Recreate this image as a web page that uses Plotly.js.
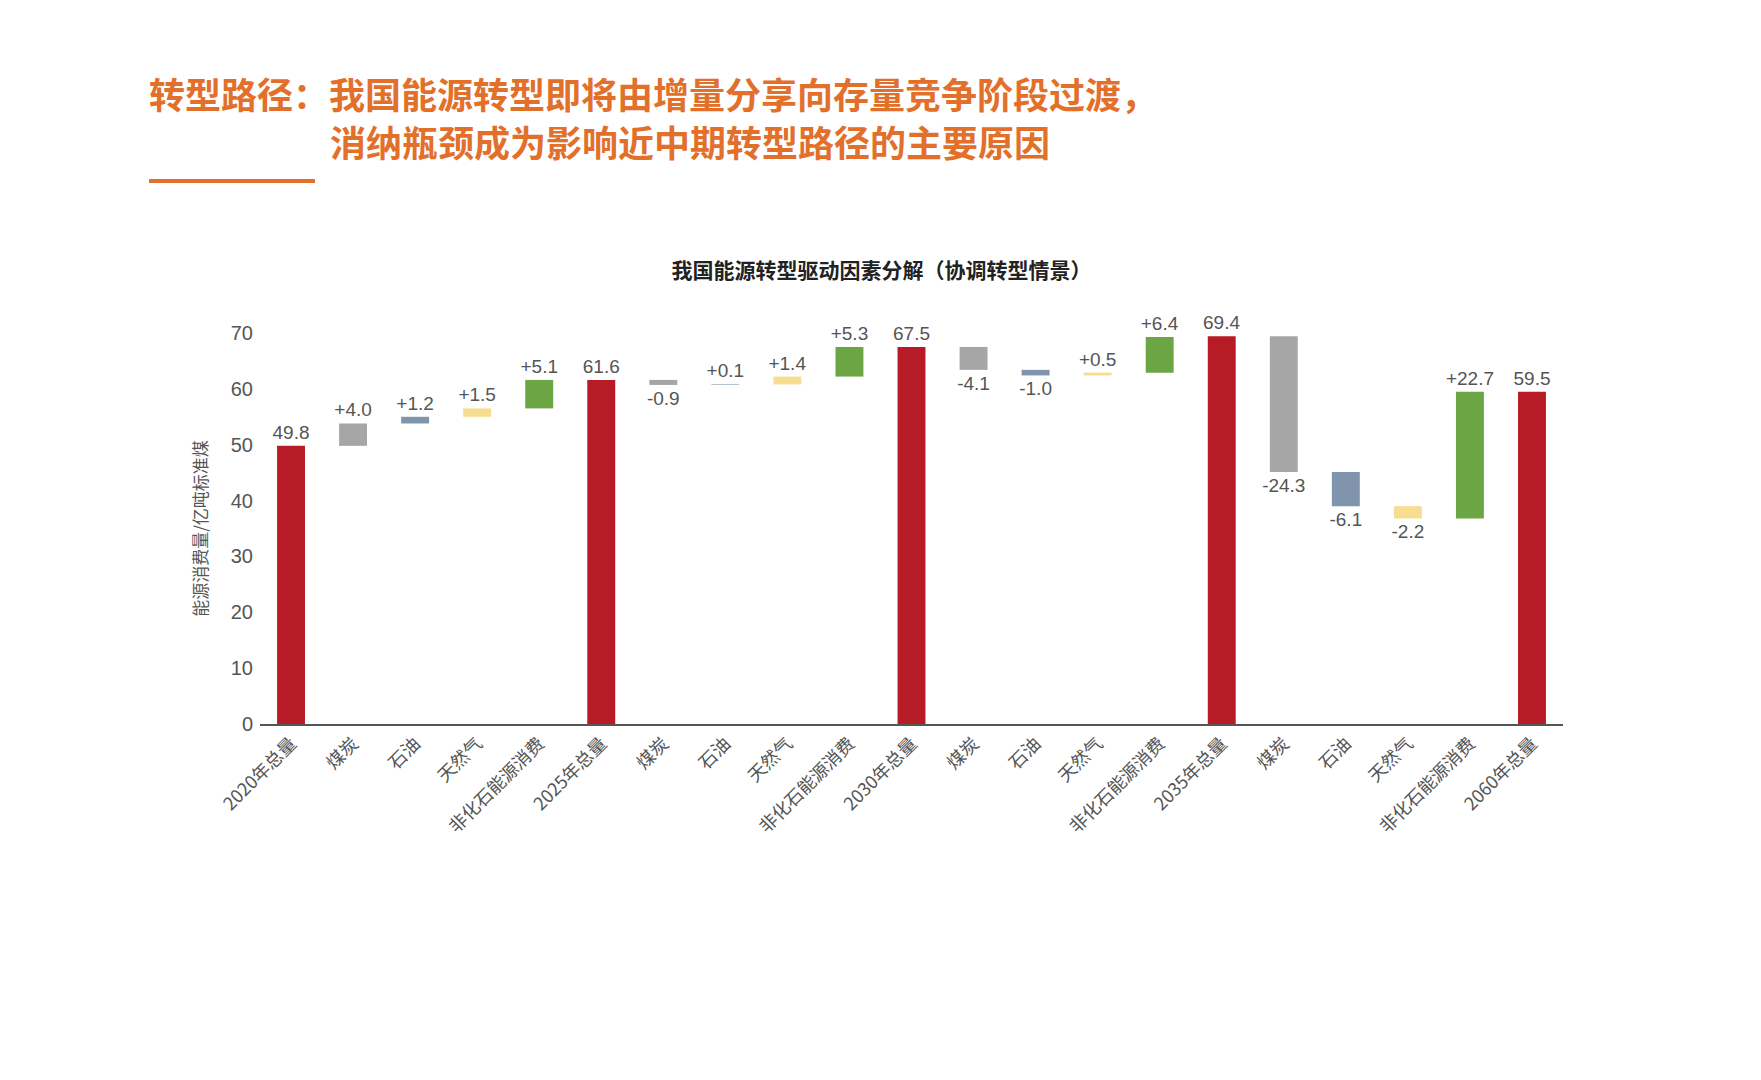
<!DOCTYPE html>
<html lang="zh">
  <head>
    <meta charset="UTF-8" />
    <title>我国能源转型驱动因素分解</title>
    <script src="https://cdn.plot.ly/plotly-3.0.1.min.js"></script>
    <style>
      body {
        margin: 0;
        background: #ffffff;
        font-family: "Noto Sans CJK SC", sans-serif;
      }
      #page {
        position: relative;
        width: 1761px;
        height: 1080px;
        overflow: hidden;
      }
      #plot {
        position: absolute;
        left: 0;
        top: 0;
        width: 1761px;
        height: 1080px;
      }
      .headline {
        position: absolute;
        left: 149px;
        top: 69px;
        color: #e2702b;
        font-size: 36px;
        font-weight: bold;
        line-height: 48px;
        white-space: nowrap;
        z-index: 2;
      }
      .headline .second {
        padding-left: 181px;
      }
      .rule {
        position: absolute;
        left: 149px;
        top: 179px;
        width: 166px;
        height: 4px;
        background: #e2702b;
        z-index: 2;
      }
    </style>
  </head>
  <body>
    <div id="page">
      <div class="headline">
        <div>转型路径：我国能源转型即将由增量分享向存量竞争阶段过渡，</div>
        <div class="second">消纳瓶颈成为影响近中期转型路径的主要原因</div>
      </div>
      <div class="rule"></div>
      <div id="plot"></div>
    </div>

    <script>
      // tick labels along the x axis
      const tickLabels = [
        "2020年总量", "煤炭", "石油", "天然气", "非化石能源消费",
        "2025年总量", "煤炭", "石油", "天然气", "非化石能源消费",
        "2030年总量", "煤炭", "石油", "天然气", "非化石能源消费",
        "2035年总量", "煤炭", "石油", "天然气", "非化石能源消费",
        "2060年总量",
      ];

      // totals are absolute, the rest are changes
      const values = [
        49.8, 4.0, 1.2, 1.5, 5.1,
        61.6, -0.9, 0.1, 1.4, 5.3,
        67.5, -4.1, -1.0, 0.5, 6.4,
        69.4, -24.3, -6.1, -2.2, 22.7,
        59.5,
      ];

      const kinds = [
        "total", "coal", "oil", "gas", "nonfossil",
        "total", "coal", "oil", "gas", "nonfossil",
        "total", "coal", "oil", "gas", "nonfossil",
        "total", "coal", "oil", "gas", "nonfossil",
        "total",
      ];

      const colors = {
        total: "#b71c26",
        coal: "#a6a6a6",
        oil: "#8094ae",
        gas: "#f6dd8f",
        nonfossil: "#6ca544",
      };

      let running = 0;
      const xs = [], ys = [], bases = [], texts = [], barColors = [];
      values.forEach((v, i) => {
        xs.push(i);
        if (kinds[i] === "total") {
          bases.push(0);
          ys.push(v);
          running = v;
          texts.push(v.toFixed(1));
        } else {
          bases.push(running);
          ys.push(v);
          running += v;
          texts.push((v > 0 ? "+" : "") + v.toFixed(1));
        }
        barColors.push(colors[kinds[i]]);
      });

      const trace = {
        type: "bar",
        x: xs,
        y: ys,
        base: bases,
        width: 0.45,
        marker: { color: barColors, line: { width: 0 } },
        text: texts,
        textposition: "outside",
        textfont: { family: "Liberation Sans, Arial, sans-serif", size: 19, color: "#555" },
        constraintext: "none",
        cliponaxis: false,
        hoverinfo: "skip",
      };

      const layout = {
        width: 1761,
        height: 1080,
        margin: { l: 260, r: 198, t: 333, b: 356 },
        paper_bgcolor: "rgba(0,0,0,0)",
        plot_bgcolor: "rgba(0,0,0,0)",
        showlegend: false,
        title: {
          text: "我国能源转型驱动因素分解（协调转型情景）",
          font: { family: "Noto Sans CJK SC", size: 21, color: "#222", weight: "bold" },
          xref: "paper",
          x: 0.477,
          xanchor: "center",
          yref: "container",
          y: 0.749,
          yanchor: "middle",
        },
        xaxis: {
          range: [-0.5, 20.5],
          tickvals: xs,
          ticktext: tickLabels,
          tickangle: -45,
          tickfont: { family: "Noto Sans CJK SC", size: 18, color: "#555" },
          showgrid: false,
          zeroline: false,
          showline: true,
          linecolor: "#555",
          linewidth: 2,
          ticks: "",
          fixedrange: true,
        },
        yaxis: {
          range: [0, 70],
          dtick: 10,
          tickfont: { family: "Liberation Sans, Arial, sans-serif", size: 20, color: "#555" },
          showgrid: false,
          zeroline: false,
          showline: false,
          ticks: "",
          ticklabelstandoff: 6,
          title: {
            text: "能源消费量/亿吨标准煤",
            font: { family: "Noto Sans CJK SC", size: 17, color: "#555" },
            standoff: 18,
          },
          fixedrange: true,
        },
      };

      Plotly.newPlot("plot", [trace], layout, { displayModeBar: false, staticPlot: true });
    </script>
  </body>
</html>
